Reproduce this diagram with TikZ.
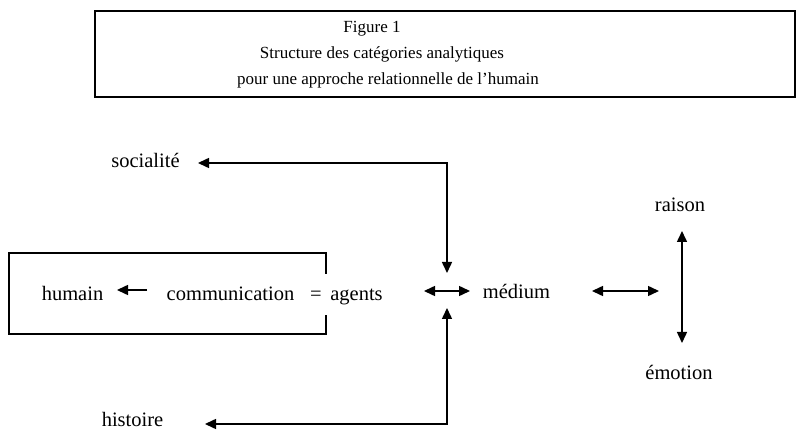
\documentclass[tikz,border=0pt]{standalone}
\usepackage{fontspec}
\setmainfont{Liberation Serif}
\usetikzlibrary{arrows.meta}
\begin{document}
\begin{tikzpicture}[x=1pt,y=-1pt,
  ttl/.style={font=\fontsize{17}{26}\selectfont, inner sep=0pt, anchor=base},
  lbl/.style={font=\fontsize{20.5}{24}\selectfont, inner sep=0pt, anchor=base},
  tip/.tip={Triangle[length=11pt,width=10pt]},
  arr/.style={line width=1.5pt, -tip},
  darr/.style={line width=1.5pt, tip-tip},
  frame/.style={line width=1.1pt}]
\useasboundingbox (0,0) rectangle (796,430);
% title box
\draw[frame] (95,11) rectangle (795,97);
\node[ttl] (t1) at (372,33) {Figure 1};
\node[ttl] (t2) at (382,59) {Structure des catégories analytiques};
\node[ttl] (t3) at (388,85) {pour une approche relationnelle de l’humain};
% left box
\draw[frame] (326,274) -- (326,253) -- (9,253) -- (9,334) -- (326,334) -- (326,315);
\node[lbl] (hum) at (72.5,301) {humain};
\node[lbl] (comm) at (230.5,301) {communication};
\node[lbl] (eq) at (316,301) {=};
\node[lbl] (ag) at (356.5,301) {agents};
\node[lbl] (med) at (516.5,299) {médium};
\node[lbl] (soc) at (145.5,168) {socialité};
\node[lbl] (hist) at (132.5,427) {histoire};
\node[lbl] (rai) at (680,212) {raison};
\node[lbl] (emo) at (679,380) {émotion};
% connector ends
\coordinate (a1) at (147,290);
\coordinate (a2) at (117,290);
\coordinate (s1) at (198,163);
\coordinate (s2) at (447,163);
\coordinate (s3) at (447,273);
\coordinate (h1) at (205,424);
\coordinate (h2) at (447,424);
\coordinate (h3) at (447,308);
\coordinate (m1) at (424,291);
\coordinate (m2) at (470,291);
\coordinate (r1) at (592,291);
\coordinate (r2) at (659,291);
\coordinate (v1) at (682,231);
\coordinate (v2) at (682,343);
% connectors
\draw[arr] (a1) -- (a2);
\draw[darr] (s1) -- (s2) -- (s3);
\draw[darr] (h1) -- (h2) -- (h3);
\draw[darr] (m1) -- (m2);
\draw[darr] (r1) -- (r2);
\draw[darr] (v1) -- (v2);
\end{tikzpicture}
\end{document}
